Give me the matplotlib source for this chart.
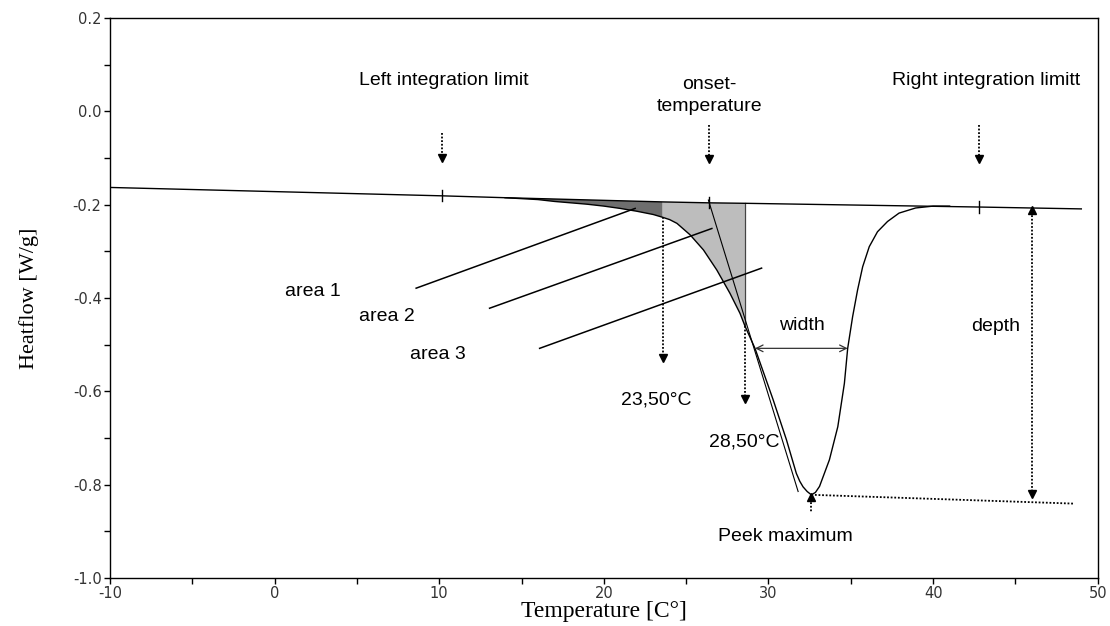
import matplotlib
matplotlib.use("Agg")
import matplotlib.pyplot as plt
import matplotlib.ticker as mticker

plt.rcParams['font.family'] = ['Liberation Sans', 'DejaVu Sans']
plt.rcParams['axes.unicode_minus'] = False

# integration baseline (straight segments between these points)
base_t = [-10.0, 10.2, 14.0, 23.57, 26.4, 28.57, 42.8, 49.0]
base_h = [-0.163, -0.181, -0.185, -0.194, -0.196, -0.197, -0.205, -0.209]

# measured heat flow through the melting peak
curve_t = [14.0, 16.0, 17.0, 18.0, 19.0, 20.0, 21.0, 22.0, 23.0, 23.57,
           24.0, 24.44, 25.25, 26.05, 26.86, 27.66, 28.27, 28.57, 29.18,
           30.28, 31.09, 31.69, 31.9, 32.1, 32.35, 32.6, 32.85, 33.1, 33.7,
           34.21, 34.61, 34.81, 35.11, 35.41, 35.72, 36.12, 36.62, 37.23,
           37.93, 38.94, 40.0, 41.0]
curve_h = [-0.185, -0.189, -0.193, -0.196, -0.199, -0.203, -0.208, -0.214,
           -0.221, -0.227, -0.232, -0.240, -0.265, -0.297, -0.340, -0.390,
           -0.433, -0.460, -0.508, -0.618, -0.704, -0.776, -0.793, -0.805,
           -0.815, -0.822, -0.817, -0.804, -0.747, -0.676, -0.583, -0.508,
           -0.440, -0.383, -0.333, -0.290, -0.258, -0.236, -0.218, -0.207,
           -0.203, -0.203]

t_left, t_onset, t_right = 10.2, 26.4, 42.8
t_area1_end, t_area2_end = 23.57, 28.57
t_peak, h_peak = 32.6, -0.822
tangent_t = [26.35, 31.8]
tangent_h = [-0.190, -0.815]
peak_line_t = [32.6, 48.6]
peak_line_h = [-0.822, -0.841]
width_t = [29.18, 34.81]
width_h = -0.508
depth_t = 46.0
depth_h = [-0.206, -0.826]

fig, ax = plt.subplots(figsize=(11.1, 6.26), dpi=100)
fig.subplots_adjust(left=0.099, right=0.989, top=0.971, bottom=0.077)

# shaded areas between baseline and curve
i1 = curve_t.index(t_area1_end)
i2 = curve_t.index(t_area2_end)
b_i1 = base_t.index(t_area1_end)
b_i2 = base_t.index(t_area2_end)
ax.fill(curve_t[:i1 + 1] + [base_t[b_i1], base_t[2]],
        curve_h[:i1 + 1] + [base_h[b_i1], base_h[2]],
        color='#6e6e6e', lw=0)
ax.fill(curve_t[i1:i2 + 1] + base_t[b_i2:b_i1 - 1:-1],
        curve_h[i1:i2 + 1] + base_h[b_i2:b_i1 - 1:-1],
        color='#bdbdbd', lw=0)
ax.plot([t_area2_end, t_area2_end], [base_h[b_i2], curve_h[i2]], color='#444444', lw=0.9)

ax.plot(base_t, base_h, color='k', lw=1)
ax.plot(curve_t, curve_h, color='k', lw=1)
ax.plot(tangent_t, tangent_h, color='k', lw=0.8)

# small ticks on the baseline at the limits and onset
for t in (t_left, t_onset, t_right):
    h = base_h[base_t.index(t)] if t in base_t else -0.196
    ax.plot([t, t], [h - 0.012, h + 0.012], color='k', lw=1)

dot = dict(color='k', lw=1.3, ls=(0, (1, 1)))


def down_arrow(x, y0, y1):
    ax.plot([x, x], [y0, y1], **dot)
    ax.plot(x, y1, marker='v', color='k', ms=6, mec='k')


down_arrow(t_left, -0.046, -0.100)
down_arrow(t_onset, -0.030, -0.103)
down_arrow(t_right, -0.030, -0.103)
down_arrow(t_area1_end, curve_h[i1], -0.528)
down_arrow(t_area2_end, curve_h[i2], -0.617)

# peak maximum marker
ax.plot([t_peak, t_peak], [h_peak, -0.862], **dot)
ax.plot(t_peak, h_peak - 0.004, marker='^', color='k', ms=6)
ax.plot(peak_line_t, peak_line_h, **dot)

# depth
ax.plot([depth_t, depth_t], depth_h, **dot)
ax.plot(depth_t, depth_h[0] - 0.006, marker='^', color='k', ms=6)
ax.plot(depth_t, depth_h[1] + 0.006, marker='v', color='k', ms=6)

# width
ax.annotate('', xy=(width_t[0], width_h), xytext=(width_t[1], width_h),
            arrowprops=dict(arrowstyle='<->', color='#333333', lw=0.9,
                            mutation_scale=12, shrinkA=0, shrinkB=0))

# leader lines for the areas
ax.plot([8.6, 21.9], [-0.379, -0.208], color='k', lw=1.1)
ax.plot([13.06, 26.56], [-0.422, -0.251], color='k', lw=1.1)
ax.plot([16.1, 29.58], [-0.508, -0.336], color='k', lw=1.1)

fs = 14
ax.text(10.3, 0.067, 'Left integration limit', ha='center', va='center', fontsize=fs)
ax.text(26.4, 0.034, 'onset-\ntemperature', ha='center', va='center', fontsize=fs,
        linespacing=1.4)
ax.text(43.2, 0.067, 'Right integration limitt', ha='center', va='center', fontsize=fs)
ax.text(2.3, -0.386, 'area 1', ha='center', va='center', fontsize=fs)
ax.text(6.8, -0.440, 'area 2', ha='center', va='center', fontsize=fs)
ax.text(9.9, -0.522, 'area 3', ha='center', va='center', fontsize=fs)
ax.text(23.2, -0.618, '23,50°C', ha='center', va='center', fontsize=fs)
ax.text(28.5, -0.708, '28,50°C', ha='center', va='center', fontsize=fs)
ax.text(32.0, -0.458, 'width', ha='center', va='center', fontsize=fs)
ax.text(43.8, -0.462, 'depth', ha='center', va='center', fontsize=fs)
ax.text(31.0, -0.912, 'Peek maximum', ha='center', va='center', fontsize=fs)

ax.set_xlim(-10, 50)
ax.set_ylim(-1.0, 0.2)
ax.xaxis.set_major_locator(mticker.MultipleLocator(10))
ax.xaxis.set_minor_locator(mticker.MultipleLocator(5))
ax.yaxis.set_major_locator(mticker.MultipleLocator(0.2))
ax.yaxis.set_minor_locator(mticker.MultipleLocator(0.1))
ax.yaxis.set_major_formatter(mticker.FormatStrFormatter('%.1f'))
ax.tick_params(which='both', direction='out', length=4, width=1, labelsize=10.5,
               labelcolor='#333333', pad=2, labelfontfamily='DejaVu Sans')
for sp in ax.spines.values():
    sp.set_linewidth(1)

ax.set_xlabel('Temperature [C°]', family='Liberation Serif', fontsize=17, labelpad=0)
ax.set_ylabel('Heatflow [W/g]', family='Liberation Serif', fontsize=16, labelpad=24)

fig.savefig('out.png', dpi=100)
